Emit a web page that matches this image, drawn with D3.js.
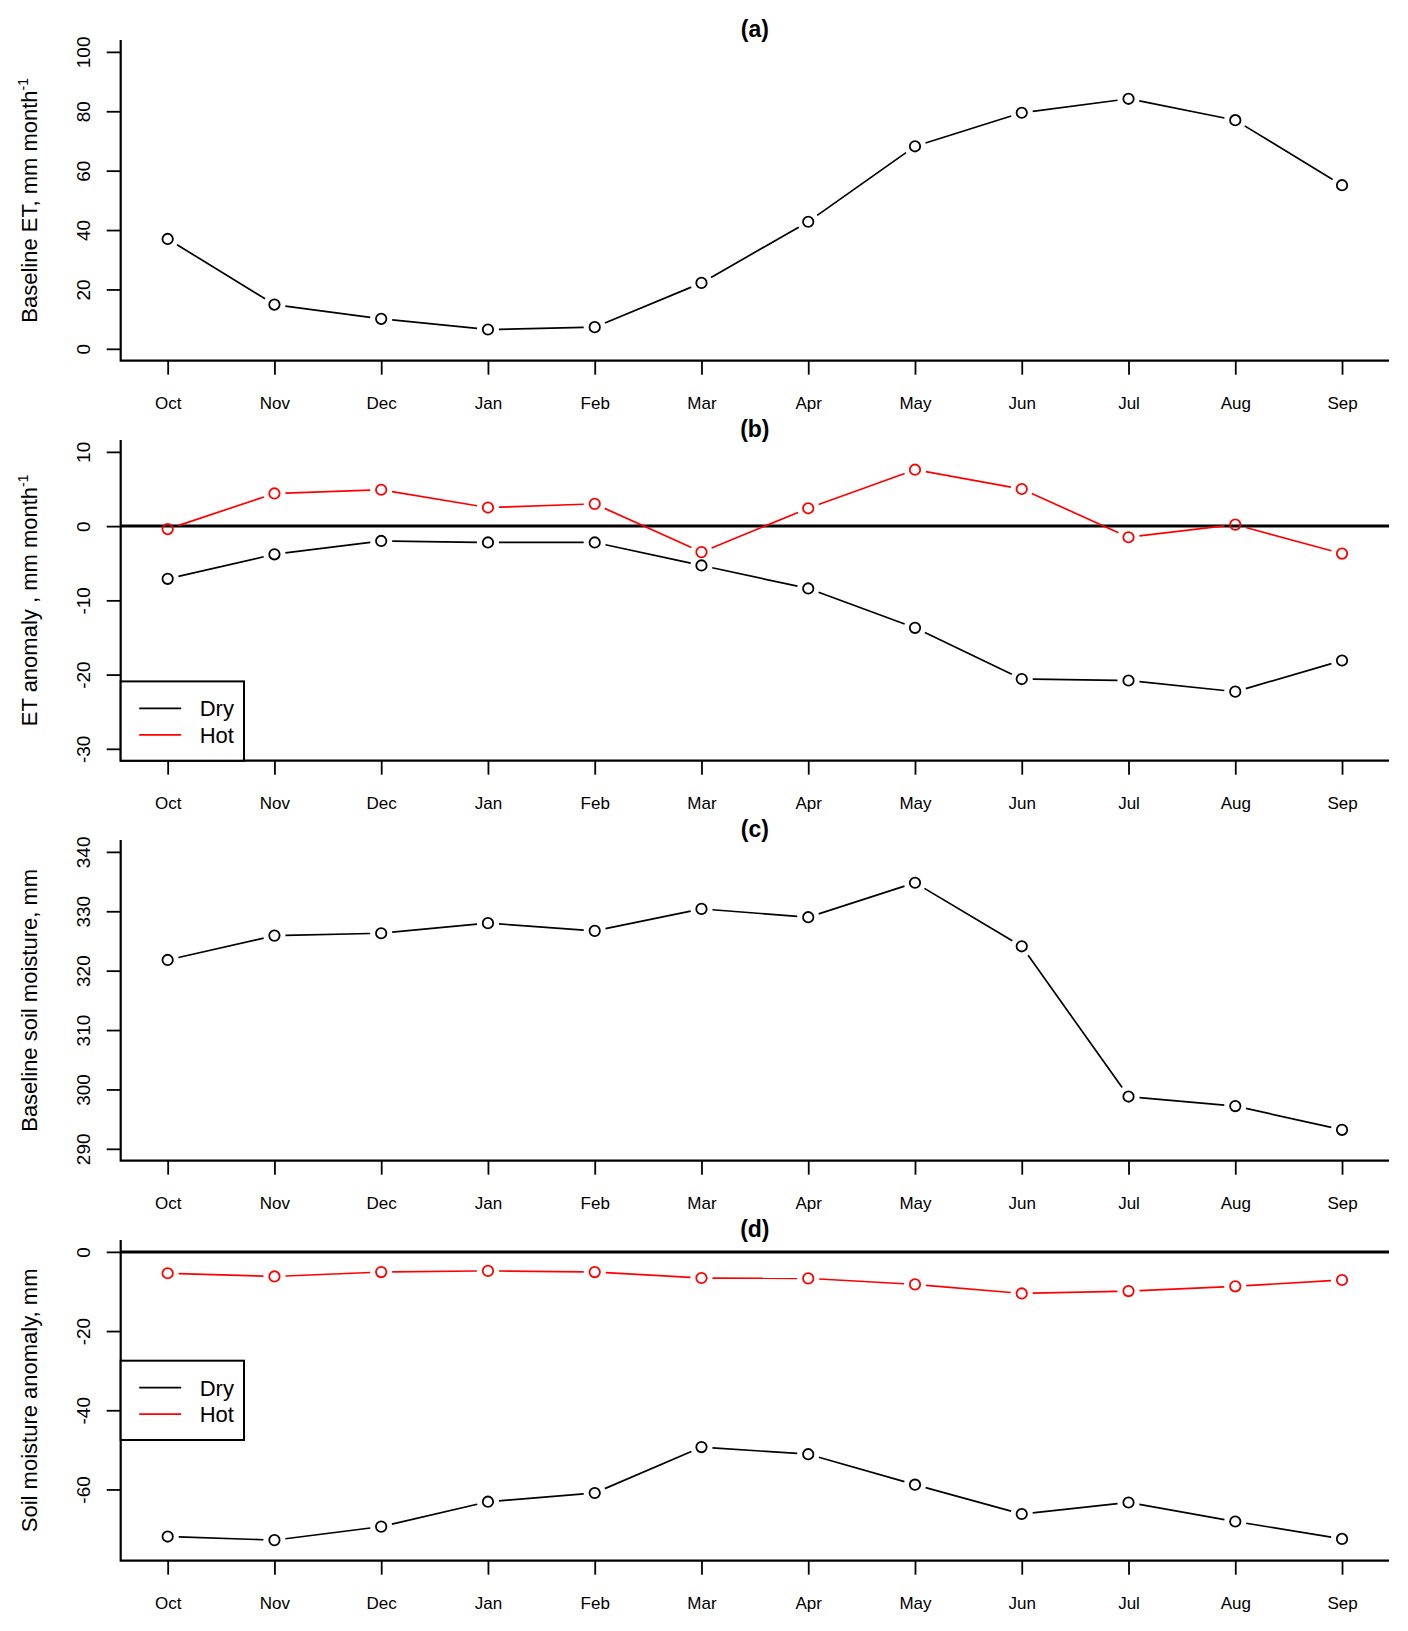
<!DOCTYPE html>
<html>
<head>
<meta charset="utf-8">
<script src="https://cdn.jsdelivr.net/npm/d3@7"></script>
<style>
  body { margin: 0; background: #fff; }
  svg text { font-family: "Liberation Sans", Arial, Helvetica, sans-serif; fill: #000; }
</style>
</head>
<body>
<svg id="graph"></svg>
<script>
var months = ["Oct", "Nov", "Dec", "Jan", "Feb", "Mar", "Apr", "May", "Jun", "Jul", "Aug", "Sep"]

var baselineET = [37.0, 14.9, 10.1, 6.5, 7.3, 22.2, 42.8, 68.2, 79.5, 84.2, 77.0, 55.1]
var etDry = [-7.1, -3.8, -2.0, -2.2, -2.2, -5.3, -8.4, -13.7, -20.6, -20.8, -22.3, -18.1]
var etHot = [-0.4, 4.4, 4.9, 2.5, 3.0, -3.5, 2.4, 7.6, 5.0, -1.5, 0.2, -3.7]
var baselineSM = [321.8, 325.9, 326.3, 328.0, 326.7, 330.4, 329.0, 334.8, 324.1, 298.8, 297.2, 293.2]
var smDry = [-71.9, -72.8, -69.4, -63.1, -60.9, -49.3, -51.1, -58.8, -66.2, -63.3, -68.1, -72.5]
var smHot = [-5.4, -6.2, -5.1, -4.8, -5.1, -6.6, -6.7, -8.2, -10.5, -9.9, -8.7, -7.1]

var ticksA = [0, 20, 40, 60, 80, 100]
var ticksB = [-30, -20, -10, 0, 10]
var ticksC = [290, 300, 310, 320, 330, 340]
var ticksD = [-60, -40, -20, 0]

var legendNames = ["Dry", "Hot"]
var legendColors = ["black", "red"]

var W = 1408, H = 1631
var left = 120.7, right = 1389
var panelH = 400, plotTop = 40, plotBottom = 360.7

var panels = [
    { title: "(a)", label: "Baseline ET, mm month", sup: "-1", ylim: [0, 100], ticks: ticksA,
      series: [{ v: baselineET, c: "black" }], zero: false, legend: null },
    { title: "(b)", label: "ET anomaly , mm month", sup: "-1", ylim: [-30, 10], ticks: ticksB,
      series: [{ v: etDry, c: "black" }, { v: etHot, c: "red" }], zero: true, legend: "bottomleft" },
    { title: "(c)", label: "Baseline soil moisture, mm", sup: null, ylim: [290, 340], ticks: ticksC,
      series: [{ v: baselineSM, c: "black" }], zero: false, legend: null },
    { title: "(d)", label: "Soil moisture anomaly, mm", sup: null, ylim: [-75, 0], ticks: ticksD,
      series: [{ v: smDry, c: "black" }, { v: smHot, c: "red" }], zero: true, legend: "left" }
]

var svg = d3.select("#graph").attr("width", W).attr("height", H)

// R-style 4% axis extension
function ext(lim) {
    var d = (lim[1] - lim[0]) * 0.04
    return [lim[0] - d, lim[1] + d]
}

var xScale = d3.scaleLinear().domain(ext([1, 12])).range([left, right])

panels.forEach(function (p, i) {
    var g = svg.append("g").attr("transform", "translate(0," + (i * panelH) + ")")
    var yScale = d3.scaleLinear().domain(ext(p.ylim)).range([plotBottom, plotTop])

    // title
    g.append("text")
        .attr("x", (left + right) / 2).attr("y", 37)
        .attr("text-anchor", "middle")
        .style("font-size", "23px").style("font-weight", "bold")
        .text(p.title)

    // y axis
    var ya = g.append("g").attr("transform", "translate(" + left + ",0)")
        .call(d3.axisLeft(yScale).tickValues(p.ticks).tickSize(14).tickFormat(function (d) { return String(d) }))
    ya.select(".domain").remove()
    ya.selectAll("line").attr("stroke", "#000").attr("stroke-width", 1.8)
    ya.selectAll("text")
        .attr("transform", "rotate(-90)")
        .attr("x", 0).attr("y", -30.7).attr("dy", null)
        .attr("text-anchor", "middle")
        .style("font-size", "19px").attr("font-family", null)

    // x axis
    var xa = g.append("g").attr("transform", "translate(0," + plotBottom + ")")
        .call(d3.axisBottom(xScale).tickValues(d3.range(1, 13)).tickSize(14)
            .tickFormat(function (d) { return months[d - 1] }))
    xa.select(".domain").remove()
    xa.selectAll("line").attr("stroke", "#000").attr("stroke-width", 1.8)
    xa.selectAll("text")
        .attr("y", 48.5).attr("dy", null)
        .style("font-size", "17px").attr("font-family", null)

    // L-shaped box
    g.append("path")
        .attr("d", "M" + left + "," + plotTop + "V" + plotBottom + "H" + right)
        .attr("fill", "none").attr("stroke", "#000").attr("stroke-width", 2.2)

    // y label
    var lab = g.append("text")
        .attr("transform", "translate(36.7," + ((plotTop + plotBottom) / 2) + ") rotate(-90)")
        .attr("text-anchor", "middle")
        .style("font-size", "22px")
    lab.append("tspan").text(p.label)
    if (p.sup) lab.append("tspan").attr("dy", -9).style("font-size", "14px").text(p.sup)

    // zero line
    if (p.zero) {
        g.append("line")
            .attr("x1", left).attr("x2", right)
            .attr("y1", yScale(0)).attr("y2", yScale(0))
            .attr("stroke", "#000").attr("stroke-width", 3)
    }

    // series, type = "b": segments with gaps around points
    p.series.forEach(function (s) {
        var pts = s.v.map(function (v, k) { return [xScale(k + 1), yScale(v)] })
        var gap = 11
        for (var k = 0; k < pts.length - 1; k++) {
            var a = pts[k], b = pts[k + 1]
            var dx = b[0] - a[0], dy = b[1] - a[1]
            var len = Math.sqrt(dx * dx + dy * dy)
            if (len <= 2 * gap) continue
            var ux = dx / len, uy = dy / len
            g.append("line")
                .attr("x1", a[0] + ux * gap).attr("y1", a[1] + uy * gap)
                .attr("x2", b[0] - ux * gap).attr("y2", b[1] - uy * gap)
                .attr("stroke", s.c).attr("stroke-width", 1.7)
        }
        g.selectAll(null)
            .data(s.v)
            .enter().append("circle")
            .attr("cx", function (d, k) { return xScale(k + 1) })
            .attr("cy", function (d) { return yScale(d) })
            .attr("r", 5.2)
            .attr("fill", "none")
            .attr("stroke", s.c).attr("stroke-width", 1.8)
    })

    // legend
    if (p.legend) {
        var lh = 79.3
        var top = p.legend == "bottomleft" ? plotBottom - lh : (plotTop + plotBottom) / 2 - lh / 2
        var lg = g.append("g").attr("transform", "translate(" + left + "," + top + ")")
        lg.append("rect")
            .attr("x", 0).attr("y", 0).attr("width", 123.3).attr("height", lh)
            .attr("fill", "#fff").attr("stroke", "#000").attr("stroke-width", 2)
        legendNames.forEach(function (n, k) {
            var yy = 27 + k * 26.5
            lg.append("line")
                .attr("x1", 18.5).attr("x2", 60.5).attr("y1", yy).attr("y2", yy)
                .attr("stroke", legendColors[k]).attr("stroke-width", 1.7)
            lg.append("text")
                .attr("x", 79).attr("y", yy + 8)
                .style("font-size", "22px")
                .text(n)
        })
    }
})
</script>
</body>
</html>
